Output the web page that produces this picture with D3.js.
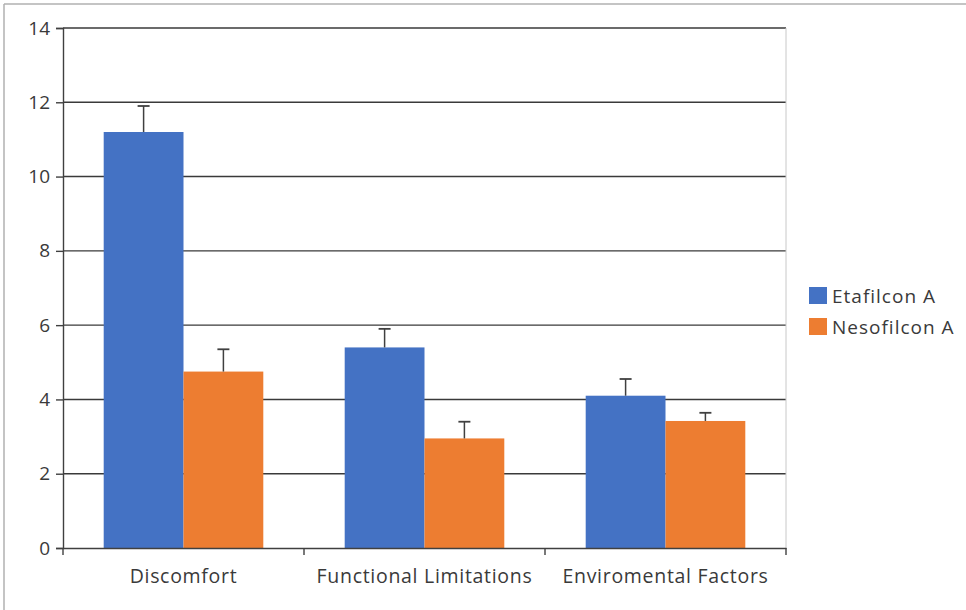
<!DOCTYPE html>
<html><head><meta charset="utf-8">
<script src="https://d3js.org/d3.v7.min.js"></script>
<style>html,body{margin:0;padding:0;background:#fff;}svg{display:block;}</style>
</head><body>
<svg id="chart" width="966" height="610"></svg>
<script>
const categories = ["Discomfort", "Functional Limitations", "Enviromental Factors"];
const seriesNames = ["Etafilcon A", "Nesofilcon A"];
const etafilconValues = [11.2, 5.4, 4.1];
const etafilconErrors = [0.7, 0.5, 0.45];
const nesofilconValues = [4.75, 2.95, 3.42];
const nesofilconErrors = [0.6, 0.45, 0.22];
const yTicks = [0, 2, 4, 6, 8, 10, 12, 14];
const colors = ["#4472c4", "#ed7d31"];

const svg = d3.select("#chart");
const font = "'Open Sans', 'Liberation Sans', sans-serif";
const M = {left: 63, right: 786, top: 28, bottom: 548};

// outer frame lines (top & left)
svg.append("line").attr("x1", 4).attr("x2", 966).attr("y1", 4).attr("y2", 4).attr("stroke", "#b0b0b0").attr("stroke-width", 1.5);
svg.append("line").attr("x1", 4).attr("x2", 4).attr("y1", 4).attr("y2", 610).attr("stroke", "#b0b0b0").attr("stroke-width", 1.5);

const x0 = d3.scaleBand().domain(categories).range([M.left, M.right]).paddingInner(0).paddingOuter(0);
const x1 = d3.scaleBand().domain(seriesNames).range([0, x0.bandwidth()]).paddingOuter(0.51).paddingInner(0);
const y = d3.scaleLinear().domain([0, 14]).range([M.bottom, M.top]);

// gridlines
svg.append("g").selectAll("line").data(yTicks.filter(d => d > 0)).join("line")
  .attr("x1", M.left).attr("x2", M.right)
  .attr("y1", d => y(d)).attr("y2", d => y(d))
  .attr("stroke", "#3a3a3a").attr("stroke-width", 1.4);

// right plot border
svg.append("line").attr("x1", M.right).attr("x2", M.right).attr("y1", M.top).attr("y2", M.bottom)
  .attr("stroke", "#c8c8c8").attr("stroke-width", 1);

const data = categories.map((c, i) => ({
  cat: c,
  vals: [
    {s: seriesNames[0], v: etafilconValues[i], e: etafilconErrors[i], c: colors[0]},
    {s: seriesNames[1], v: nesofilconValues[i], e: nesofilconErrors[i], c: colors[1]}
  ]
}));

const groups = svg.append("g").selectAll("g").data(data).join("g")
  .attr("transform", d => `translate(${x0(d.cat)},0)`);

groups.selectAll("rect").data(d => d.vals).join("rect")
  .attr("x", d => x1(d.s)).attr("width", x1.bandwidth())
  .attr("y", d => y(d.v)).attr("height", d => y(0) - y(d.v))
  .attr("fill", d => d.c);

// error bars
const eb = groups.selectAll("g.err").data(d => d.vals).join("g").attr("class", "err");
eb.append("line")
  .attr("x1", d => x1(d.s) + x1.bandwidth() / 2).attr("x2", d => x1(d.s) + x1.bandwidth() / 2)
  .attr("y1", d => y(d.v)).attr("y2", d => y(d.v + d.e))
  .attr("stroke", "#404040").attr("stroke-width", 1.5);
eb.append("line")
  .attr("x1", d => x1(d.s) + x1.bandwidth() / 2 - 6).attr("x2", d => x1(d.s) + x1.bandwidth() / 2 + 6)
  .attr("y1", d => y(d.v + d.e)).attr("y2", d => y(d.v + d.e))
  .attr("stroke", "#404040").attr("stroke-width", 1.8);

// y axis
const yAxis = svg.append("g").attr("transform", `translate(${M.left},0)`)
  .call(d3.axisLeft(y).tickValues(yTicks).tickSize(7).tickPadding(6).tickFormat(d3.format("d")));
yAxis.select(".domain").attr("stroke", "#404040").attr("stroke-width", 1.4);
yAxis.selectAll(".tick line").attr("stroke", "#404040").attr("stroke-width", 1.4);
yAxis.selectAll("text").attr("font-family", font).attr("font-size", 19).attr("fill", "#3a3a3a");

// x axis
const xAxis = svg.append("g").attr("transform", `translate(0,${M.bottom})`)
  .call(d3.axisBottom(x0).tickSize(0).tickPadding(21));
xAxis.select(".domain").attr("stroke", "#404040").attr("stroke-width", 1.4);
xAxis.selectAll("text").attr("font-family", font).attr("font-size", 19.5)
  .attr("letter-spacing", 0.7).attr("fill", "#3a3a3a");
// category boundary ticks
const bounds = [M.left, ...categories.map(c => x0(c) + x0.bandwidth())];
svg.append("g").selectAll("line").data(bounds).join("line")
  .attr("x1", d => d).attr("x2", d => d).attr("y1", M.bottom).attr("y2", M.bottom + 7)
  .attr("stroke", "#404040").attr("stroke-width", 1.4);

// legend
const lg = svg.append("g").attr("transform", "translate(809,287)");
const li = lg.selectAll("g").data(seriesNames).join("g").attr("transform", (d, i) => `translate(0,${i * 31})`);
li.append("rect").attr("width", 18).attr("height", 17).attr("fill", (d, i) => colors[i]);
li.append("text").attr("x", 23).attr("y", 16).text(d => d)
  .attr("font-family", font).attr("font-size", 19).attr("letter-spacing", 1)
  .attr("fill", "#3a3a3a");
</script>
</body></html>
